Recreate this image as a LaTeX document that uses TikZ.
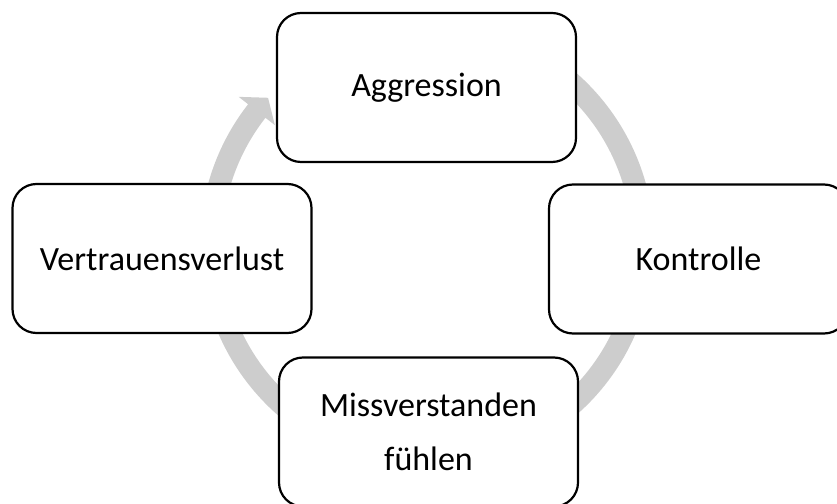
\documentclass[tikz,border=0pt]{standalone}
\usepackage{fontspec}
\setmainfont{Carlito}
\definecolor{ringgray}{RGB}{205,205,205}
\tikzset{cyclebox/.style={draw=black, line width=2.2pt, fill=white,
    rounded corners=24pt, minimum width=299pt, minimum height=149pt,
    inner sep=0pt, align=center, font=\fontsize{34}{54}\selectfont}}

\begin{document}
\begin{tikzpicture}[x=1pt,y=1pt]
\clip (0,0) rectangle (837,503);
\coordinate (c) at (427,259);
% ring arrow behind the boxes
\fill[ringgray] ([shift={(80:227)}]c) arc[start angle=80, end angle=-218, radius=227]
    -- ([shift={(142:239)}]c) -- ([shift={(137.4:216)}]c) -- ([shift={(142:193)}]c)
    -- ([shift={(142:205)}]c) arc[start angle=-218, end angle=80, radius=205] -- cycle;
\node[cyclebox] (aggr) at (426.5,415.5) {Aggression};
\node[cyclebox] (kontr) at (698.5,244) {Kontrolle};
\node[cyclebox] (miss) at (428.5,71) {\raisebox{-5pt}{Missverstanden}\\\raisebox{-5pt}{fühlen}};
\node[cyclebox] (vertr) at (162,244.5) {Vertrauensverlust};
\end{tikzpicture}
\end{document}
